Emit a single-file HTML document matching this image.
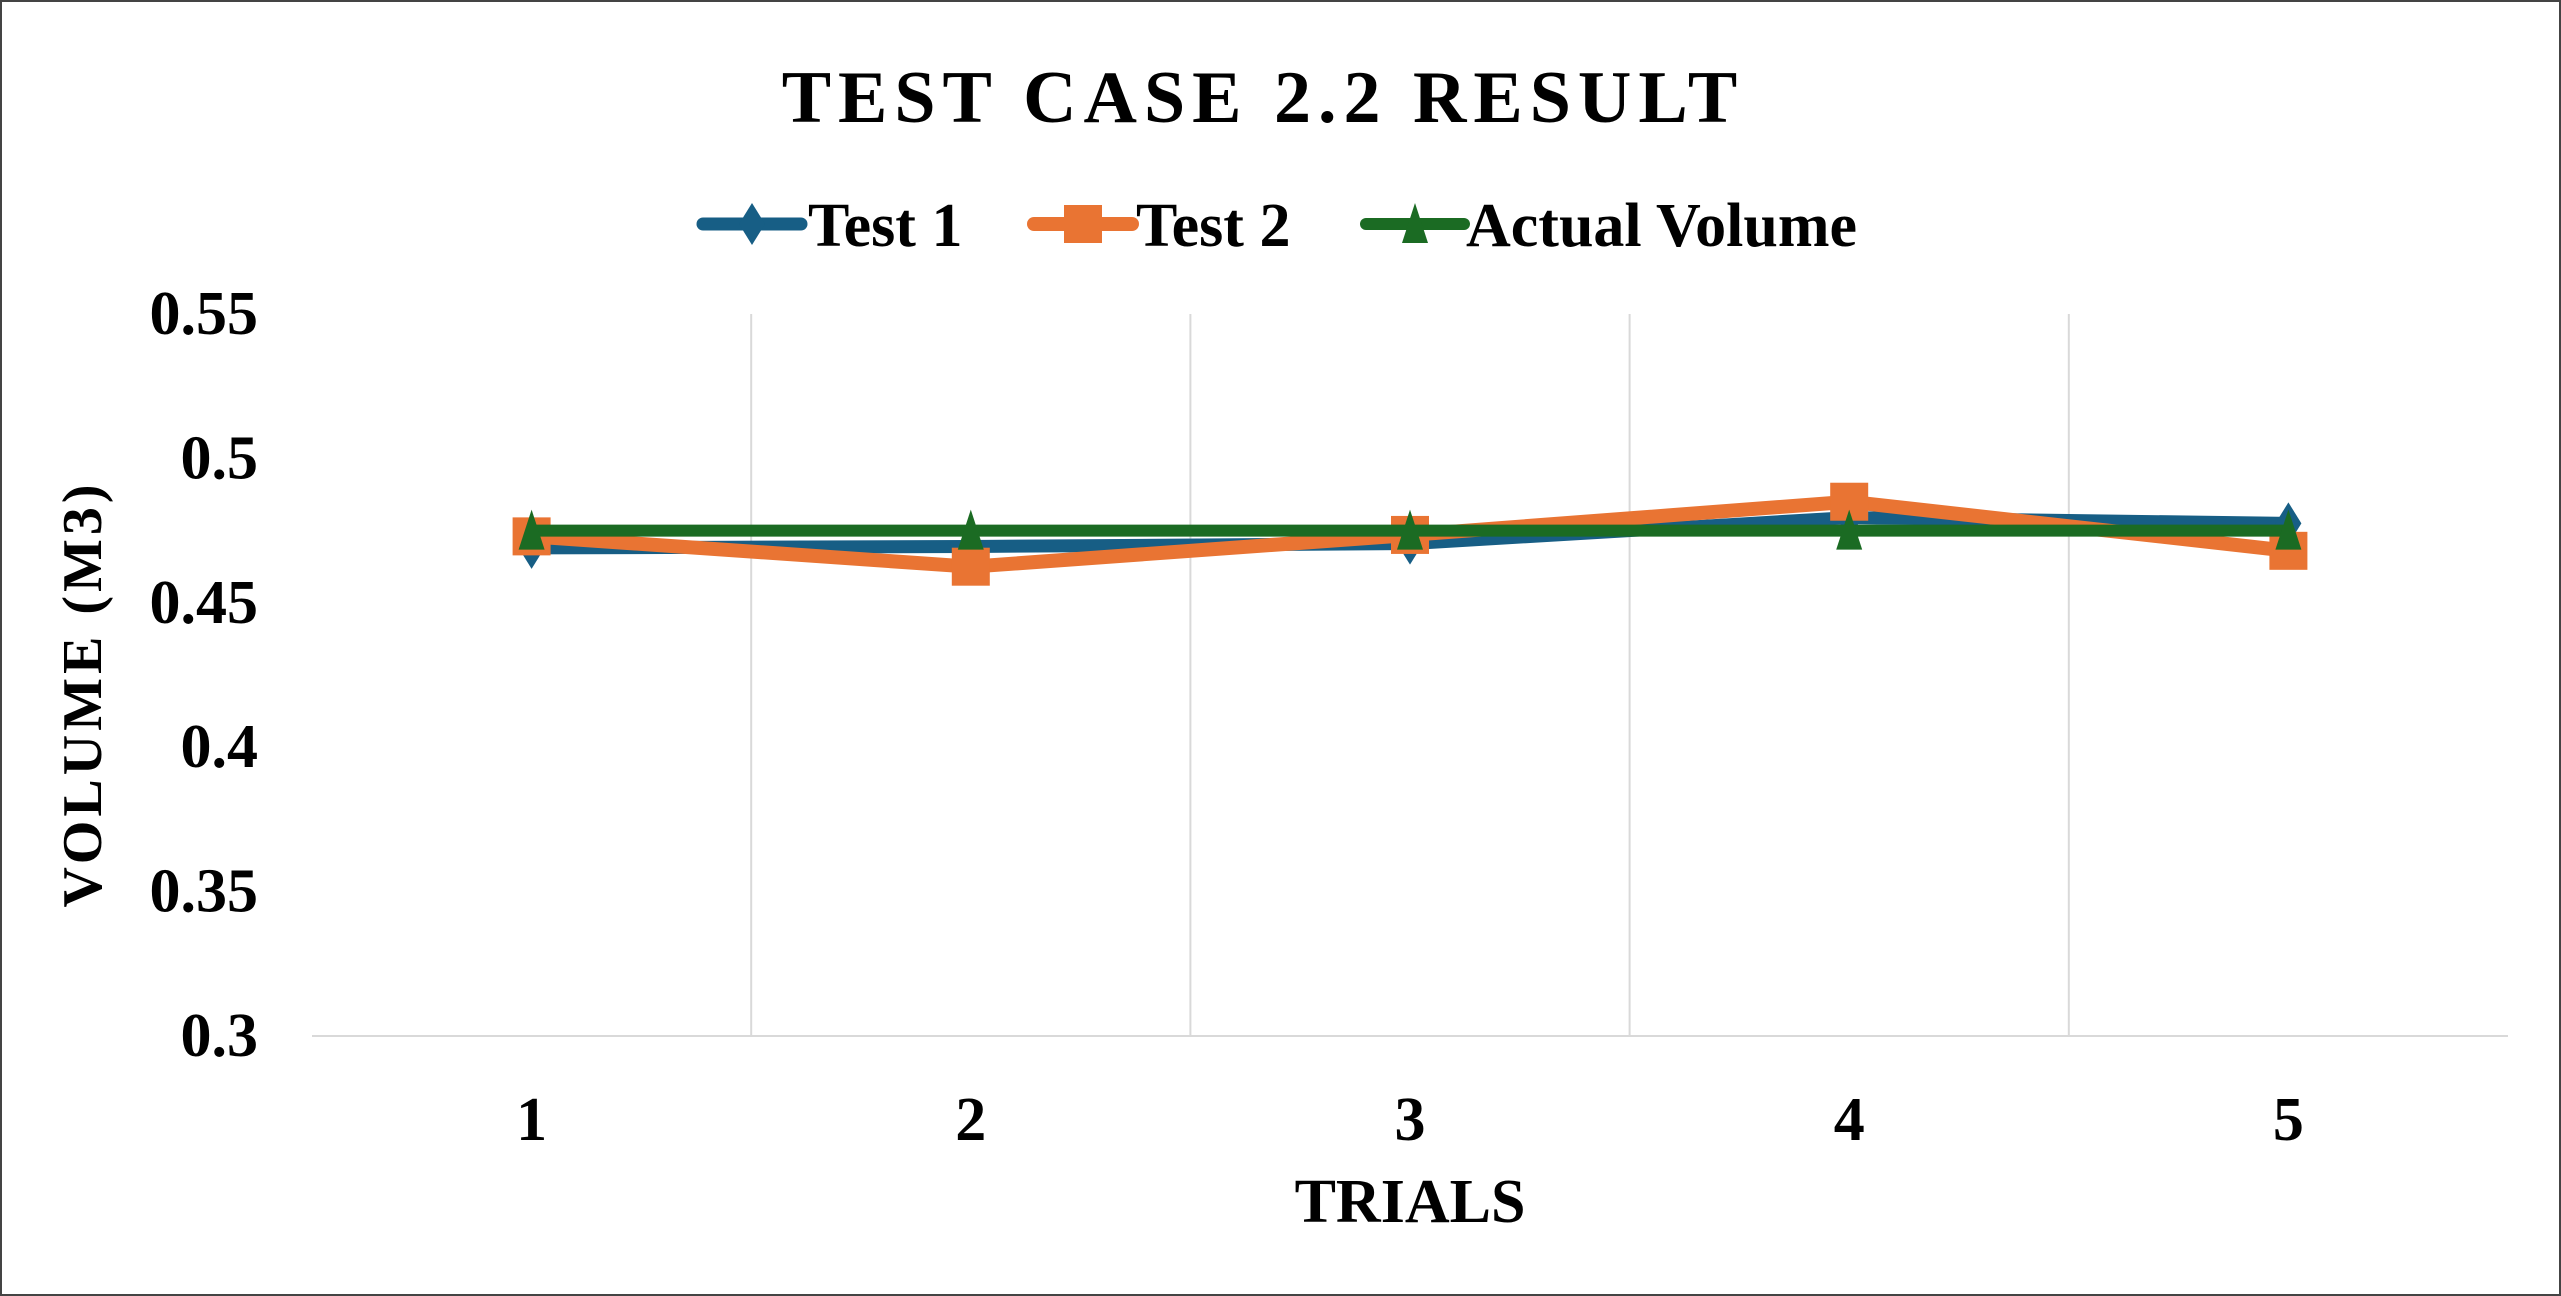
<!DOCTYPE html>
<html><head><meta charset="utf-8"><style>
html,body{margin:0;padding:0;background:#fff}
svg{display:block}
text{font-family:"Liberation Serif",serif;font-weight:bold;fill:#000}
</style></head><body>
<svg id="chart" width="2561" height="1296" viewBox="0 0 2561 1296">
<rect x="1" y="1" width="2559" height="1294" fill="#fff" stroke="#444" stroke-width="2"/>
<text x="1263" y="122" text-anchor="middle" font-size="74" letter-spacing="7">TEST CASE 2.2 RESULT</text>
<g id="legend"></g>
<g id="grid"></g>
<g id="yticks"></g>
<g id="xticks"></g>
<g id="series"></g>
<text transform="translate(88,694) rotate(-90)" text-anchor="middle" font-size="56" letter-spacing="4" dominant-baseline="middle">VOLUME (M3)</text>
<text x="1410" y="1222" text-anchor="middle" font-size="62">TRIALS</text>
</svg>
<script>
const categories = ["1","2","3","4","5"];
const test1 = [0.469, 0.4695, 0.4705, 0.4795, 0.4775];
const test2 = [0.473, 0.4625, 0.4735, 0.485, 0.468];
const actual = [0.475, 0.475, 0.475, 0.475, 0.475];
const yTicks = [0.3, 0.35, 0.4, 0.45, 0.5, 0.55];
const yTickLabels = ["0.3","0.35","0.4","0.45","0.5","0.55"];

const NS = "http://www.w3.org/2000/svg";
const X0 = 312, X1 = 2508, Y0 = 1036, Y1 = 314, YMIN = 0.3, YMAX = 0.55;
const band = (X1 - X0) / categories.length;
function xPos(i){ return X0 + band * (i + 0.5); }
function yPos(v){ return Y0 - (v - YMIN) / (YMAX - YMIN) * (Y0 - Y1); }
function mk(tag, attrs, parent){ const e = document.createElementNS(NS, tag); for (const k in attrs) e.setAttribute(k, attrs[k]); parent.appendChild(e); return e; }

const grid = document.getElementById('grid');
for (let i = 1; i < categories.length; i++) {
  const l = mk('line', {x1: X0 + band*i, x2: X0 + band*i, y1: Y1, y2: Y0, stroke: '#d9d9d9', 'stroke-width': 2}, grid);
  
  
}
const base = mk('line', {x1: X0, x2: X1, y1: Y0, y2: Y0, stroke: '#d9d9d9', 'stroke-width': 2}, grid);



const yt = document.getElementById('yticks');
yTicks.forEach((v, i) => {
  const t = mk('text', {x: 258, y: yPos(v) + 20, 'text-anchor': 'end', 'font-size': 62}, yt);
  t.textContent = yTickLabels[i];
  
  
});
const xt = document.getElementById('xticks');
categories.forEach((c, i) => {
  const t = mk('text', {x: xPos(i), y: 1140, 'text-anchor': 'middle', 'font-size': 62}, xt);
  t.textContent = c;
  
  
});

function marker(type, cx, cy, color, parent){
  let e;
  if (type === 'diamond') e = mk('polygon', {points: `${cx},${cy-21} ${cx+13},${cy} ${cx},${cy+21} ${cx-13},${cy}`, fill: color}, parent);
  else if (type === 'square') e = mk('rect', {x: cx-19, y: cy-19, width: 38, height: 38, fill: color}, parent);
  else e = mk('polygon', {points: `${cx},${cy-21} ${cx+13},${cy+19} ${cx-13},${cy+19}`, fill: color}, parent);
  return e;
}
const seriesG = document.getElementById('series');
const defs = [
  {name: 'test-1', data: test1, color: '#175e85', w: 13, m: 'diamond'},
  {name: 'test-2', data: test2, color: '#e97433', w: 14, m: 'square'},
  {name: 'actual-volume', data: actual, color: '#1b6b23', w: 12, m: 'triangle'}
];
defs.forEach(s => {
  const g = mk('g', {}, seriesG);
  
  
  const pl = mk('polyline', {points: s.data.map((v,i)=>xPos(i)+','+yPos(v)).join(' '), fill: 'none', stroke: s.color, 'stroke-width': s.w, 'stroke-linejoin': 'round'}, g);
  
  
  s.data.forEach((v,i) => {
    const m = marker(s.m, xPos(i), yPos(v), s.color, g);
    
    
  });
});

const legend = document.getElementById('legend');
const legItems = [
  {label: 'Test 1', x0: 703, tx: 808, color: '#175e85', m: 'diamond', w: 13},
  {label: 'Test 2', x0: 1034, tx: 1136, color: '#e97433', m: 'square', w: 14},
  {label: 'Actual Volume', x0: 1366, tx: 1466, color: '#1b6b23', m: 'triangle', w: 12}
];
legItems.forEach(it => {
  const g = mk('g', {}, legend);
  
  
  mk('line', {x1: it.x0, x2: it.x0 + 98, y1: 224, y2: 224, stroke: it.color, 'stroke-width': it.w, 'stroke-linecap': 'round'}, g);
  marker(it.m, it.x0 + 49, 224, it.color, g);
  const t = mk('text', {x: it.tx, y: 246, 'font-size': 62}, g);
  t.textContent = it.label;
});
</script>
</body></html>
